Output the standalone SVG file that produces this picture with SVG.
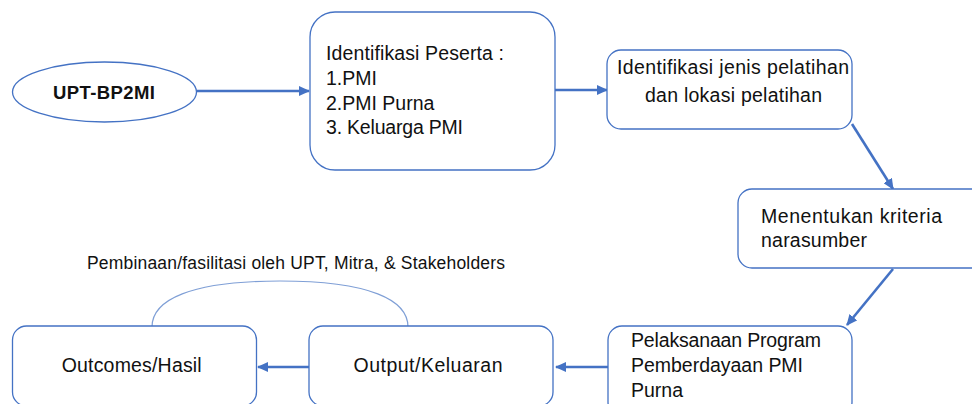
<svg xmlns="http://www.w3.org/2000/svg" width="972" height="404" viewBox="0 0 972 404">
<style>
.box{fill:#fff;stroke:#4472C4;stroke-width:1.3}
.t{font-family:"Liberation Sans",Arial,sans-serif;font-size:19.5px;fill:#111}
.tb{font-family:"Liberation Sans",Arial,sans-serif;font-size:18.5px;font-weight:bold;fill:#111}
.lbl{font-family:"Liberation Sans",Arial,sans-serif;font-size:17.5px;fill:#111}
.c{fill:none;stroke:#4472C4;stroke-width:2.6}
.arc{fill:none;stroke:#7F9FD6;stroke-width:1.2}
</style>
<defs>
<marker id="ah" markerUnits="userSpaceOnUse" markerWidth="12" markerHeight="10" refX="10" refY="5" orient="auto">
<path d="M0,0 L11,5 L0,10 Z" fill="#4472C4"/>
</marker>
</defs>
<rect width="972" height="404" fill="#fff"/>
<g id="connectors">
<line class="c" x1="197" y1="91" x2="309" y2="91" marker-end="url(#ah)"/>
<line class="c" x1="555" y1="90" x2="607" y2="90" marker-end="url(#ah)"/>
<line class="c" x1="852" y1="124" x2="893" y2="189" marker-end="url(#ah)"/>
<line class="c" x1="893" y1="269" x2="847" y2="325" marker-end="url(#ah)"/>
<line class="c" x1="608" y1="367" x2="556" y2="367" marker-end="url(#ah)"/>
<line class="c" x1="309" y1="367" x2="258" y2="367" marker-end="url(#ah)"/>
<path class="arc" d="M152,327 C152,300 190,281 280,281 C370,281 408,300 408,327"/>
</g>
<g id="upt">
<ellipse cx="104.5" cy="92" rx="92" ry="30" fill="#fff" stroke="#4472C4" stroke-width="1.3"/>
<text class="tb" x="104" y="98.5" text-anchor="middle" textLength="102">UPT-BP2MI</text>
</g>
<g id="peserta">
<rect class="box" x="310" y="12" width="245" height="158" rx="25"/>
<text class="t" x="326" y="60" textLength="178">Identifikasi Peserta :</text>
<text class="t" x="326" y="85">1.PMI</text>
<text class="t" x="326" y="110">2.PMI Purna</text>
<text class="t" x="326" y="134" textLength="137">3. Keluarga PMI</text>
</g>
<g id="jenis">
<rect class="box" x="607" y="50" width="245" height="79" rx="14"/>
<text class="t" x="733" y="74" text-anchor="middle" textLength="232">Identifikasi jenis pelatihan</text>
<text class="t" x="733.5" y="101.5" text-anchor="middle" textLength="177">dan lokasi pelatihan</text>
</g>
<g id="kriteria">
<rect class="box" x="738" y="189" width="250" height="79" rx="14"/>
<text class="t" x="761" y="222.5" textLength="181">Menentukan kriteria</text>
<text class="t" x="761" y="246.5" textLength="106">narasumber</text>
</g>
<g id="pelaksanaan">
<rect class="box" x="608" y="326" width="244" height="90" rx="14"/>
<text class="t" x="631" y="346.5" textLength="190">Pelaksanaan Program</text>
<text class="t" x="631" y="371.5" textLength="172">Pemberdayaan PMI</text>
<text class="t" x="631" y="396.5" textLength="52">Purna</text>
</g>
<g id="output">
<rect class="box" x="309" y="326" width="244" height="80" rx="14"/>
<text class="t" x="428" y="372.3" text-anchor="middle" textLength="149">Output/Keluaran</text>
</g>
<g id="outcomes">
<rect class="box" x="12.5" y="326" width="244" height="80" rx="14"/>
<text class="t" x="131.7" y="372.3" text-anchor="middle" textLength="140">Outcomes/Hasil</text>
</g>
<g id="label">
<text class="lbl" x="87" y="269.3" textLength="418">Pembinaan/fasilitasi oleh UPT, Mitra, &amp; Stakeholders</text>
</g>
</svg>
